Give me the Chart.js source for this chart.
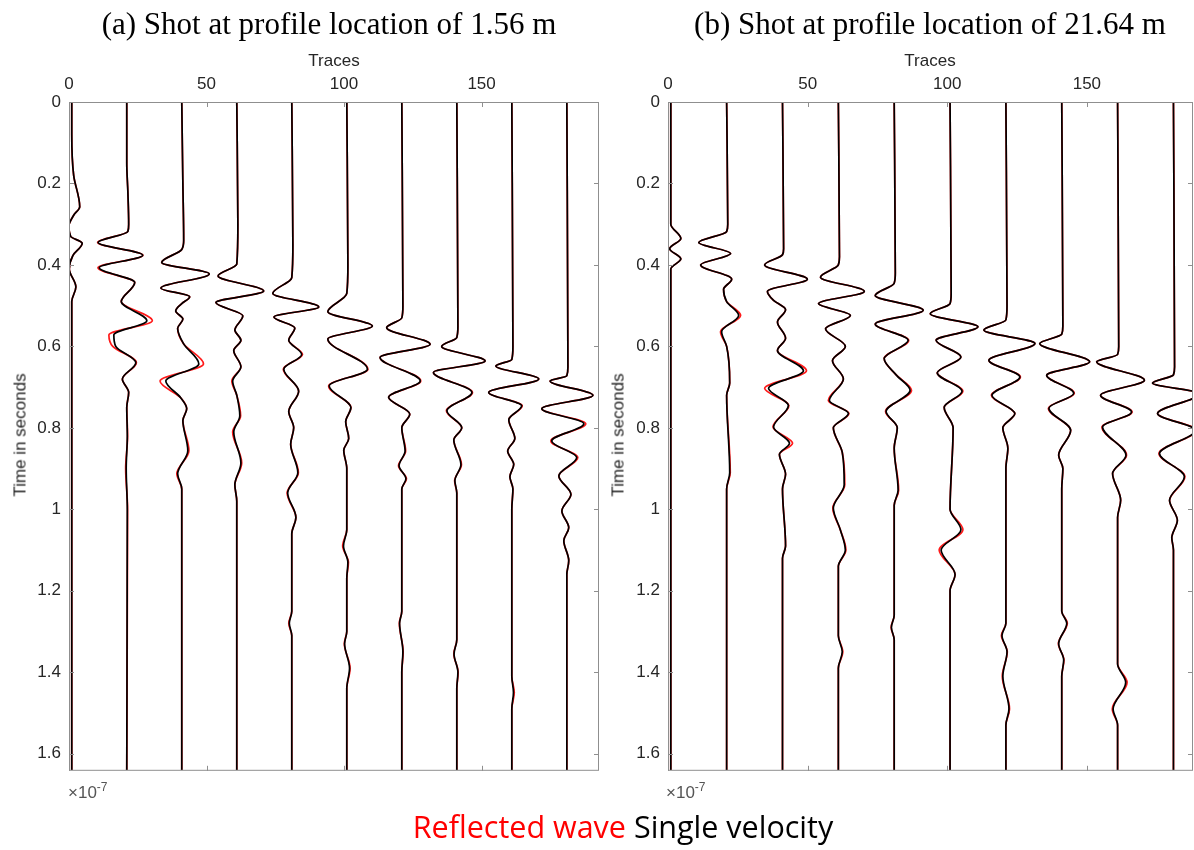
<!DOCTYPE html>
<html><head><meta charset="utf-8">
<script src="https://cdn.jsdelivr.net/npm/chart.js@4.4.1/dist/chart.umd.min.js"></script>
<style>
html,body{margin:0;padding:0;background:#fff}
body{width:1194px;height:850px;position:relative;overflow:hidden;font-family:"Liberation Sans",Arial,sans-serif;color:#262626}
canvas{position:absolute;top:0}
.abs{position:absolute;white-space:nowrap;line-height:1}
.title{font-family:"Liberation Serif","Times New Roman",serif;font-size:31px;color:#000;transform:translate(-50%,-50%)}
.lab{font-size:17px;transform:translate(-50%,-50%)}
.ylab{font-size:17px;transform:translate(-50%,-50%) rotate(-90deg)}
.mult{font-size:17px;color:#555}
.mult sup{font-size:12px;vertical-align:7px}
.legend{font-family:"Open Sans","Noto Sans",sans-serif;font-size:30.5px;transform:translate(-50%,-50%)}
</style></head><body>
<canvas id="cA" width="600" height="789" style="left:0px"></canvas>
<canvas id="cB" width="595" height="789" style="left:599px"></canvas>
<div class="abs title" style="left:329px;top:23px">(a) Shot at profile location of 1.56 m</div>
<div class="abs title" style="left:930px;top:23px">(b) Shot at profile location of 21.64 m</div>
<div class="abs lab" style="left:334px;top:60px">Traces</div>
<div class="abs lab" style="left:930px;top:60px">Traces</div>
<div class="abs ylab" style="left:20px;top:435px">Time in seconds</div>
<div class="abs ylab" style="left:618px;top:435px">Time in seconds</div>
<div class="abs mult" style="left:68px;top:781px">×10<sup>-7</sup></div>
<div class="abs mult" style="left:666px;top:781px">×10<sup>-7</sup></div>
<div class="abs legend" style="left:623px;top:826px"><span style="color:#ff0000">Reflected wave</span> <span style="color:#000">Single velocity</span></div>
<script>
// ---------- axis ticks ----------
const xTickValues = [0, 50, 100, 150];
const yTickValues = [0, 0.2, 0.4, 0.6, 0.8, 1, 1.2, 1.4, 1.6];
const traceNumbers = [1, 21, 41, 61, 81, 101, 121, 141, 161, 181];

// ---------- panel (a): time knots (s), single velocity (black) & reflected wave (red) amplitudes (trace units) ----------
const aT1 = [0,0.08,0.18,0.257,0.278,0.305,0.33,0.347,0.377,0.41,0.454,0.49,1.64];
const aS1 = [0,0,0.7,2.9,0.7,-1.1,-0.4,3.8,0.4,-0.9,1.5,0,0];
const aR1 = [0,0,0.7,2.9,0.7,-1.1,-0.4,3.8,0.4,-0.9,1.5,0,0];
const aT2 = [0,0.15,0.22,0.3,0.318,0.345,0.376,0.407,0.443,0.49,0.537,0.572,0.6,0.64,0.68,0.713,0.75,0.82,0.9,1.0,1.64];
const aS2 = [0,0,0.4,0.7,0.4,-10.4,5.8,-10.0,2.9,-2.0,7.3,-4.7,-4.0,3.3,-1.6,0.7,0,0.2,-0.2,0.2,0];
const aR2 = [0,0,0.4,0.7,0.4,-10.6,5.9,-10.5,2.9,-2.0,9.3,-6.5,-5.1,3.5,-1.6,0.7,0,0.3,-0.4,0.3,0];
const aT3 = [0,0.2,0.34,0.362,0.394,0.422,0.457,0.478,0.495,0.513,0.533,0.556,0.594,0.643,0.685,0.726,0.753,0.782,0.856,0.913,0.95,1.64];
const aS3 = [0,0.4,0.7,0,-7.3,10.0,-7.6,2.9,0,-2.2,0.4,-1.5,0.7,6.2,-5.8,-0.4,1.8,0.4,2.2,-1.5,0,0];
const aR3 = [0,0.4,0.7,0,-7.3,10.0,-7.6,2.9,0,-2.2,0.4,-1.5,0.7,7.9,-7.9,-0.4,1.8,0.4,2.6,-1.8,0,0];
const aT4 = [0,0.3,0.398,0.427,0.464,0.4925,0.525,0.56,0.585,0.61,0.65,0.685,0.72,0.77,0.81,0.886,0.94,0.98,1.64];
const aS4 = [0,0.4,0,-6.8,9.8,-7.6,2.2,-0.7,1.5,-1.1,1.5,-1.5,0,1.1,-1.1,1.5,-0.7,0,0];
const aR4 = [0,0.4,0,-6.8,9.8,-7.6,2.2,-0.7,1.5,-1.1,1.5,-1.8,0,1.4,-1.5,1.8,-0.7,0,0];
const aT5 = [0,0.35,0.431,0.47,0.503,0.528,0.555,0.585,0.62,0.656,0.71,0.76,0.8,0.84,0.91,0.96,1.02,1.06,1.25,1.28,1.31,1.64];
const aS5 = [0,0.4,0,-6.9,9.8,-6.5,1.1,-1.1,3.6,-2.9,2.5,-1.1,0.7,-0.4,2.2,-1.5,1.5,0,0,-0.9,0,0];
const aR5 = [0,0.4,0,-6.9,9.8,-6.5,1.1,-1.1,3.9,-3.1,2.5,-1.1,0.7,-0.4,2.4,-1.7,1.5,0,0,-1.1,0,0];
const aT6 = [0,0.4,0.47,0.515,0.55,0.582,0.656,0.697,0.75,0.785,0.826,0.855,0.9,1.05,1.09,1.13,1.17,1.3,1.33,1.39,1.44,1.64];
const aS6 = [0,0.4,0,-6.9,9.3,-6.9,7.5,-6.4,1.5,-0.4,0.7,-1.1,0,0,-1.2,0.4,0,0,-0.8,1.0,0,0];
const aR6 = [0,0.4,0,-6.9,9.3,-6.9,7.7,-6.6,1.5,-0.4,0.7,-1.1,0,0,-1.5,0.6,0,0,-0.9,1.2,0,0];
const aT7 = [0,0.5,0.53,0.554,0.595,0.627,0.685,0.725,0.766,0.8,0.857,0.893,0.925,0.95,1.25,1.28,1.35,1.4,1.64];
const aS7 = [0,0.4,0,-5.5,10.3,-7.9,6.7,-4.8,2.9,0,1.2,-1.0,1.5,0,0,-0.8,0.4,0,0];
const aR7 = [0,0.4,0,-5.5,10.3,-7.9,6.9,-4.8,2.9,0,1.4,-1.2,1.7,0,0,-0.9,0.5,0,0];
const aT8 = [0,0.55,0.578,0.6,0.636,0.664,0.713,0.758,0.8,0.83,0.89,0.93,0.96,1.32,1.355,1.4,1.44,1.64];
const aS8 = [0,0.4,0,-5.5,10.3,-8.5,5.5,-3.6,1.8,-1.1,1.5,-0.7,0,0,-1.0,0.4,0,0];
const aR8 = [0,0.4,0,-5.5,10.3,-8.5,5.7,-3.8,1.8,-1.1,1.7,-0.8,0,0,-1.1,0.5,0,0];
const aT9 = [0,0.6,0.632,0.648,0.68,0.713,0.746,0.78,0.826,0.857,0.89,0.92,0.95,1.0,1.41,1.45,1.49,1.64];
const aS9 = [0,0.4,0,-5.8,9.8,-8.4,3.6,-1.1,1.1,-1.5,0.7,-0.7,0.4,0,0,0.6,0,0];
const aR9 = [0,0.4,0,-5.8,9.8,-8.4,3.8,-1.1,1.1,-1.5,0.7,-0.7,0.4,0,0,0.9,0,0];
const aT10 = [0,0.65,0.672,0.685,0.72,0.753,0.79,0.832,0.873,0.918,0.963,1.004,1.045,1.077,1.126,1.16,1.64];
const aS10 = [0,0.4,0,-6.1,9.5,-9.1,6.2,-5.5,3.6,-2.9,1.5,-1.8,0.7,-1.1,0.7,0,0];
const aR10 = [0,0.4,0,-6.1,9.5,-9.1,6.9,-5.8,4.0,-2.9,1.5,-1.8,0.7,-1.1,0.7,0,0];

// ---------- panel (b) ----------
const bT1 = [0,0.3,0.335,0.36,0.385,0.41,0.5,1.64];
const bS1 = [0,0,3.6,-0.4,3.6,0,0,0];
const bR1 = [0,0,3.6,-0.4,3.6,0,0,0];
const bT2 = [0,0.3,0.318,0.345,0.372,0.4,0.435,0.46,0.49,0.524,0.564,0.6,0.69,0.72,0.91,0.95,1.64];
const bS2 = [0,0.4,0,-10,1.4,-9.3,1.8,-1.1,0,4.3,-1.8,0,1.1,0,1.1,0,0];
const bR2 = [0,0.4,0,-10,1.4,-9.3,1.8,-1.1,0,5.0,-2.2,0,1.1,0,1.3,0,0];
const bT3 = [0,0.36,0.375,0.4,0.435,0.465,0.487,0.51,0.54,0.58,0.61,0.66,0.703,0.745,0.798,0.838,0.865,0.914,0.95,1.09,1.12,1.64];
const bS3 = [0,0.4,0,-6.4,8.9,-5.4,-3.2,1.1,-1.8,1.1,-1.8,7.5,-5,2.1,-3.2,2.5,-1.1,1.1,0,1.1,0,0];
const bR3 = [0,0.4,0,-6.4,8.9,-5.4,-3.2,1.1,-1.8,1.1,-1.8,8.6,-6.4,2.3,-3.4,3.6,-1.1,1.1,0,1.1,0,0];
const bT4 = [0,0.38,0.4,0.43,0.465,0.495,0.524,0.557,0.6,0.635,0.68,0.733,0.765,0.8,0.86,0.94,0.997,1.05,1.1,1.14,1.31,1.35,1.39,1.64];
const bS4 = [0,0.4,0,-6.4,9.3,-7.1,4.3,-4.6,2.5,-2.1,1.8,-3.2,3.6,-1.8,1.4,2.1,-1.8,0.7,2.5,0,0,1.4,0,0];
const bR4 = [0,0.4,0,-6.4,9.3,-7.1,4.3,-4.6,2.5,-2.1,1.8,-3.6,3.8,-1.8,1.4,2.3,-2.0,0.7,2.7,0,0,1.6,0,0];
const bT5 = [0,0.42,0.445,0.475,0.511,0.545,0.585,0.63,0.67,0.708,0.76,0.8,0.85,0.953,0.99,1.26,1.29,1.32,1.64];
const bS5 = [0,0.4,0,-6.8,10.4,-6.8,5,-3.6,0.7,5.7,-2.9,1.1,0,1.4,0,0,-1.0,0,0];
const bR5 = [0,0.4,0,-6.8,10.4,-6.8,5.2,-3.6,0.7,6.2,-3.1,1.1,0,1.6,0,0,-1.1,0,0];
const bT6 = [0,0.47,0.495,0.52,0.552,0.585,0.626,0.665,0.71,0.75,0.8,1.0,1.05,1.1,1.16,1.2,1.64];
const bS6 = [0,0.4,0,-7.1,10,-5,3.9,-4.6,4.3,-2.1,1.1,0,3.9,-3.2,1.8,0,0];
const bR6 = [0,0.4,0,-7.1,10,-5,3.9,-4.6,4.6,-2.1,1.1,0,4.6,-3.9,1.8,0,0];
const bT7 = [0,0.5,0.535,0.56,0.593,0.634,0.675,0.72,0.765,0.8,0.85,0.9,1.28,1.31,1.35,1.41,1.49,1.53,1.64];
const bS7 = [0,0.4,0,-7.9,10.4,-6.1,5,-5,3.2,-1.1,0.7,0,0,-1.4,0.4,-1.1,1.1,0,0];
const bR7 = [0,0.4,0,-7.9,10.4,-6.1,5.2,-5.2,3.2,-1.1,0.7,0,0,-1.6,0.5,-1.3,1.3,0,0];
const bT8 = [0,0.55,0.57,0.593,0.638,0.671,0.715,0.752,0.806,0.867,0.9,0.95,1.25,1.28,1.33,1.37,1.41,1.64];
const bS8 = [0,0.4,0,-7.9,10,-5.4,4.3,-4.6,3.2,-1.1,0.4,0,0,1.8,-1.1,0.7,0,0];
const bR8 = [0,0.4,0,-7.9,10,-5.4,4.5,-4.8,3.2,-1.1,0.4,0,0,2.0,-1.2,0.8,0,0];
const bT9 = [0,0.6,0.62,0.638,0.683,0.72,0.761,0.798,0.867,0.912,0.978,1.02,1.38,1.425,1.49,1.53,1.64];
const bS9 = [0,0.4,0,-7.5,9.6,-6.1,5,-5.4,3,-1.8,1.1,0,0,2.9,-1.6,0,0];
const bR9 = [0,0.4,0,-7.5,9.6,-6.1,5.2,-5.6,3.2,-1.8,1.1,0,0,3.4,-1.9,0,0];
const bT10 = [0,0.65,0.67,0.69,0.716,0.765,0.806,0.863,0.92,0.978,1.027,1.07,1.1,1.64];
const bS10 = [0,0.4,0,-7.5,9.3,-5.7,7.9,-5,3.9,-1.4,1.4,-0.6,0,0];
const bR10 = [0,0.4,0,-7.5,9.3,-5.7,8.2,-5.2,4.1,-1.4,1.4,-0.6,0,0];

const panelATraces = [[aT1,aS1,aR1],[aT2,aS2,aR2],[aT3,aS3,aR3],[aT4,aS4,aR4],[aT5,aS5,aR5],[aT6,aS6,aR6],[aT7,aS7,aR7],[aT8,aS8,aR8],[aT9,aS9,aR9],[aT10,aS10,aR10]];
const panelBTraces = [[bT1,bS1,bR1],[bT2,bS2,bR2],[bT3,bS3,bR3],[bT4,bS4,bR4],[bT5,bS5,bR5],[bT6,bS6,bR6],[bT7,bS7,bR7],[bT8,bS8,bR8],[bT9,bS9,bR9],[bT10,bS10,bR10]];

// ---------- chart building ----------
const boxPlugin = {
  id: 'matlabBox',
  afterDatasetsDraw(chart) {
    const {ctx, chartArea: {left, right, top, bottom}, scales: {x, y}} = chart;
    ctx.save();
    ctx.strokeStyle = '#8f8f8f';
    ctx.lineWidth = 1;
    ctx.strokeRect(left + 0.5, top + 0.5, right - left - 1, bottom - top - 1);
    const L = 5;
    ctx.beginPath();
    xTickValues.forEach(v => {
      const px = Math.round(x.getPixelForValue(v)) + 0.5;
      ctx.moveTo(px, top); ctx.lineTo(px, top + L);
      ctx.moveTo(px, bottom); ctx.lineTo(px, bottom - L);
    });
    yTickValues.forEach(v => {
      const py = Math.round(y.getPixelForValue(v)) + 0.5;
      ctx.moveTo(left, py); ctx.lineTo(left + L, py);
      ctx.moveTo(right, py); ctx.lineTo(right - L, py);
    });
    ctx.stroke();
    ctx.restore();
  }
};

function buildDatasets(traces) {
  const red = [], black = [];
  traces.forEach((tr, i) => {
    const [times, single, reflected] = tr;
    const base = traceNumbers[i];
    red.push({
      label: 'Reflected wave',
      data: times.map((t, k) => ({x: base + reflected[k], y: t})),
      borderColor: '#ff1a1a', borderWidth: 1.7
    });
    black.push({
      label: 'Single velocity',
      data: times.map((t, k) => ({x: base + single[k], y: t})),
      borderColor: '#000000', borderWidth: 1.7
    });
  });
  // first datasets are painted last (on top): black over red
  return black.concat(red).map(d => Object.assign(d, {
    pointRadius: 0, fill: false, cubicInterpolationMode: 'monotone'
  }));
}

function makeChart(id, traces, xMax) {
  new Chart(document.getElementById(id), {
    type: 'line',
    data: {datasets: buildDatasets(traces)},
    options: {
      indexAxis: 'y',
      responsive: false,
      animation: false,
      events: [],
      layout: {autoPadding: false, padding: {left: 0, right: 1, top: 0, bottom: 1}},
      plugins: {legend: {display: false}, tooltip: {enabled: false}},
      scales: {
        x: {
          type: 'linear', position: 'top', min: 0, max: xMax,
          grid: {display: false, drawTicks: false},
          border: {display: false},
          ticks: {stepSize: 50, includeBounds: false, padding: 7, color: '#262626',
                  font: {family: 'Liberation Sans', size: 17}, maxRotation: 0},
          afterFit(s) { s.height = 102; }
        },
        y: {
          type: 'linear', position: 'left', reverse: true, min: 0, max: 1.642,
          grid: {display: false, drawTicks: false},
          border: {display: false},
          ticks: {stepSize: 0.2, includeBounds: false, padding: 8, color: '#262626',
                  font: {family: 'Liberation Sans', size: 17},
                  callback: v => String(Number(v.toFixed(1)))},
          afterFit(s) { s.width = 69; }
        }
      }
    },
    plugins: [boxPlugin]
  });
}

makeChart('cA', panelATraces, 192.7);
makeChart('cB', panelBTraces, 188.0);
</script>
</body></html>
